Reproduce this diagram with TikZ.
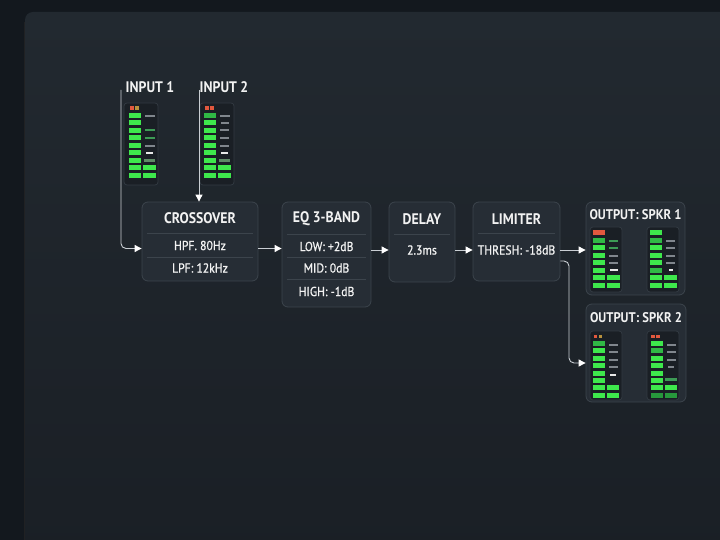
\documentclass[tikz,border=0pt]{standalone}
\usepackage{fontspec}
\setmainfont{PT Sans}
\newfontfamily\titlefont{PT Sans Bold}[FakeStretch=0.9]
\newfontfamily\bodyfont{PT Sans}[FakeStretch=0.9, FakeBold=1]
\usetikzlibrary{arrows.meta}

\definecolor{bgout}{HTML}{13181E}
\definecolor{paneltop}{HTML}{222930}
\definecolor{panelbot}{HTML}{1A1F25}
\definecolor{boxfill}{HTML}{262D35}
\definecolor{boxline}{HTML}{3C444C}
\definecolor{meterfill}{HTML}{1A1F25}
\definecolor{meterline}{HTML}{333B43}
\definecolor{txt}{HTML}{F2F2F2}
\definecolor{wire}{HTML}{C9CED3}
\definecolor{ledR}{HTML}{E2583E}
\definecolor{ledY}{HTML}{B8913D}
\definecolor{gB}{HTML}{3EE84C}
\definecolor{gM}{HTML}{30B845}
\definecolor{gD}{HTML}{27993C}
\definecolor{dGray}{HTML}{80868D}
\definecolor{dGreen}{HTML}{3D9A55}
\definecolor{dWhite}{HTML}{E8E8E8}
\definecolor{dGG}{HTML}{5E8A66}

\tikzset{
  procbox/.style={draw=boxline, fill=boxfill, line width=0.8pt, rounded corners=6pt, inner sep=0pt},
  meterbox/.style={draw=meterline, fill=meterfill, line width=0.7pt, rounded corners=3pt, inner sep=0pt},
  title/.style={text=txt, font=\titlefont\fontsize{15.3}{17}\selectfont, inner sep=0pt},
  outtitle/.style={text=txt, font=\titlefont\fontsize{14}{16}\selectfont, inner sep=0pt},
  body/.style={text=txt, font=\bodyfont\fontsize{13}{15}\selectfont, inner sep=0pt},
  divline/.style={draw=boxline, line width=0.7pt},
  wirearrow/.style={draw=wire, line width=0.9pt, -{Triangle[length=7pt,width=7pt,color=white,fill=white]}},
  nix/.style={fill opacity=0},
}

% #1 x left column, #2 x right column, #3 y top, #4 row step, #5 left colours, #6 right specs colour/width/height/offset
\newcommand\vumeter[6]{%
  \foreach \c [count=\i from 0] in {#5} {\fill[\c] (#1,{#3+\i*#4}) rectangle ++(12,5);}
  \foreach \c/\w/\h/\o [count=\i from 0] in {#6} {\fill[\c] ({#2+6-\w/2},{#3+\i*#4+\o}) rectangle ++(\w,\h);}
}

\begin{document}
\begin{tikzpicture}[x=1pt,y=-1pt]
\useasboundingbox (0,0) rectangle (720,540);
\clip (0,0) rectangle (720,540);
\fill[bgout] (0,0) rectangle (720,540);
\shade[top color=paneltop, bottom color=panelbot, rounded corners=8pt] (25,12) rectangle (740,560);
\draw[color=black!85, line width=1.5pt, opacity=0.7] (24.3,545) -- (24.3,22);

% processing boxes
\node[procbox, minimum width=116pt, minimum height=79pt] (xover) at (200,241.5) {};
\node[procbox, minimum width=89pt, minimum height=105pt] (eq) at (326.5,254.5) {};
\node[procbox, minimum width=66pt, minimum height=80pt] (delay) at (422,242) {};
\node[procbox, minimum width=87pt, minimum height=79pt] (lim) at (516.5,241.5) {};
\node[procbox, minimum width=99pt, minimum height=93pt] (out1) at (635.5,248.5) {};
\node[procbox, minimum width=100pt, minimum height=98pt] (out2) at (636,353) {};

% meter boxes
\node[meterbox, minimum width=34pt, minimum height=82pt] (m1) at (141,144) {};
\node[meterbox, minimum width=34pt, minimum height=82pt] (m2) at (217,144) {};
\node[meterbox, minimum width=32pt, minimum height=65pt] (o1l) at (606,259.5) {};
\node[meterbox, minimum width=32pt, minimum height=65pt] (o1r) at (663,259.5) {};
\node[meterbox, minimum width=32pt, minimum height=69pt] (o2l) at (606,365.5) {};
\node[meterbox, minimum width=32pt, minimum height=69pt] (o2r) at (663,365.5) {};

% labels
\node[title] (lin1) at (150,87) {INPUT 1};
\node[title] (lin2) at (224,87) {INPUT 2};

\node[title] (txover) at (200,218) {CROSSOVER};
\draw[divline] (147,233) -- (253,233);
\node[body] (hpf) at (200,245.5) {HPF. 80Hz};
\draw[divline] (147,257) -- (253,257);
\node[body] (lpf) at (200,268) {LPF: 12kHz};

\node[title] (teq) at (326.5,219) {EQ 3-BAND};
\draw[divline] (287,234) -- (366,234);
\node[body] (low) at (326.5,246.5) {LOW: +2dB};
\draw[divline] (287,257) -- (366,257);
\node[body] (mid) at (326.5,268) {MID: 0dB};
\draw[divline] (287,279) -- (366,279);
\node[body] (high) at (326.5,291.5) {HIGH: -1dB};

\node[title] (tdelay) at (422,219) {DELAY};
\draw[divline] (394,234) -- (450,234);
\node[body] (dms) at (422,250) {2.3ms};

\node[title] (tlim) at (516.5,219) {LIMITER};
\draw[divline] (478,233) -- (555,233);
\node[body] (thr) at (516.5,250) {THRESH: -18dB};

\node[outtitle] (tout1) at (635.5,215) {OUTPUT: SPKR 1};
\node[outtitle] (tout2) at (636,318) {OUTPUT: SPKR 2};

% meters
% input 1
\fill[ledR] (129.5,106.5) rectangle ++(4,3.5);
\fill[ledY] (134.5,106.5) rectangle ++(4,3.5);
\vumeter{128.5}{143.5}{113}{7.5}{gB,gB,gB,gB,gB,gB,gB,gB,gB}
  {dGray/10/2/2, nix/10/2/2, dGreen/10/2/1.5, dGreen/10/2/1.5, dGray/10/2/2, dWhite/7/2/1.5, dGG/11/3/1.5, gB/12.5/5/0, gB/12.5/5/0}
% input 2
\fill[ledR] (204.5,106.5) rectangle ++(4,3.5);
\fill[ledR] (209.5,106.5) rectangle ++(4,3.5);
\vumeter{203.5}{218.5}{113}{7.5}{gM,gB,gB,gB,gB,gB,gB,gB,gB}
  {dGray/10/2/2, dGray/8/2/2, dGray/9/2/1.5, dGray/9/2/1.5, dGray/9/2/2, dWhite/7/2/1.5, dGG/11/3/1.5, gB/12.5/5/0, gB/12.5/5/0}
% output 1 left
\vumeter{593}{607.5}{230}{7.5}{ledR,gM,gB,gB,gB,gB,gB,gB}
  {nix/10/2/2, dGreen/9/2/2, dGreen/9/2/2, dGray/9/2/2, dGray/9/2/2, dWhite/8/2/1, gB/12.5/5/0, gB/12.5/5/0}
% output 1 right
\vumeter{650}{664.5}{230}{7.5}{gB,gM,gB,gB,gB,gM,gB,gB}
  {nix/10/2/2, dGray/9/2/2, dGray/9/2/2, dGray/9/2/2, dGray/9/2/2, dWhite/4/2/1, gB/12.5/5/0, gB/12.5/5/0}
% output 2 left
\fill[ledR] (593.5,334.5) rectangle ++(3.5,3.5);
\fill[ledY] (598.5,334.5) rectangle ++(3.5,3.5);
\vumeter{592.5}{607}{341}{7.4}{gM,gB,gB,gB,gB,gB,gB,gB}
  {dGray/9/2/3, dGray/9/2/3, dGray/9/2/3, dGray/9/2/3, dWhite/6/2/3, nix/6/2/3, gB/12.5/5/0, gB/12.5/5/0}
% output 2 right
\fill[ledR] (651,334.5) rectangle ++(3.5,3.5);
\fill[ledR] (656,334.5) rectangle ++(3.5,3.5);
\vumeter{650.5}{665}{341}{7.4}{gB,gM,gB,gB,gB,gB,gB,gD}
  {dGray/9/2/3, dGray/9/2/3, dGray/9/2/3, dGray/6/2/3, nix/9/2/3, dGreen/12/3/0, gB/12.5/5/0, gD/12.5/5/0}

% connectors
\coordinate (in1top) at (121,90);
\coordinate (in2top) at (199,90);
\coordinate (ra) at (0,248.5);
\coordinate (rb) at (0,250);
\coordinate (rc) at (0,261);
\coordinate (bendb) at (569,363);
\draw[wirearrow, rounded corners=5pt] (in1top) |- (xover.west |- ra);
\draw[wirearrow] (in2top) -- (xover.north -| in2top);
\draw[wirearrow] (xover.east |- ra) -- (eq.west |- ra);
\draw[wirearrow] (eq.east |- rb) -- (delay.west |- rb);
\draw[wirearrow] (delay.east |- rb) -- (lim.west |- rb);
\draw[wirearrow] (lim.east |- rb) -- (out1.west |- rb);
\draw[wirearrow, rounded corners=5pt] (lim.east |- rc) -| (bendb) -- (out2.west |- bendb);
\end{tikzpicture}
\end{document}
